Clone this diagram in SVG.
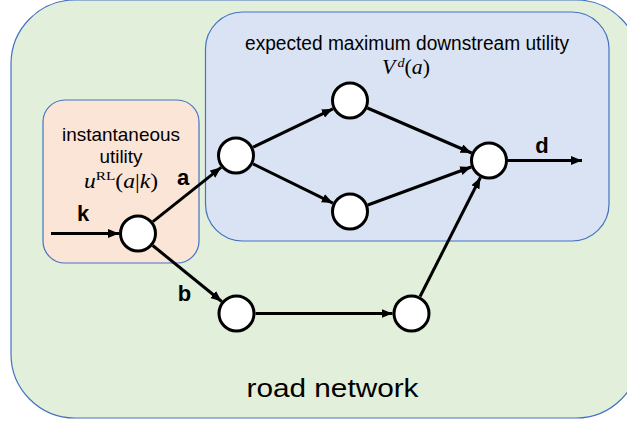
<svg xmlns="http://www.w3.org/2000/svg" width="627" height="423" viewBox="0 0 627 423">
<style>
.box{stroke:#4472C4;stroke-width:1.2}
.node circle{fill:#fff;stroke:#000;stroke-width:3}
.edge{stroke:#000;stroke-width:3;fill:none;marker-end:url(#ah)}
.lbl{font-family:"Liberation Sans",Arial,sans-serif;fill:#000;text-anchor:middle}
.b{font-weight:bold;font-size:22px}
.m{font-family:"Liberation Serif","Times New Roman",serif;fill:#000;text-anchor:middle}
</style>
<defs>
<marker id="ah" markerUnits="userSpaceOnUse" markerWidth="12" markerHeight="10" refX="11" refY="4.5" orient="auto">
<path d="M0,0 L11,4.5 L0,9 z" fill="#000"/>
</marker>
</defs>
<g id="road-network">
<rect class="box" x="11" y="0" width="629" height="418" rx="64" ry="64" fill="#E2EFDA"/>
<text class="lbl" x="332.5" y="397" font-size="26" textLength="172" lengthAdjust="spacingAndGlyphs">road network</text>
</g>
<g id="downstream">
<rect class="box" x="205.5" y="12" width="403.5" height="229" rx="37" ry="37" fill="#DAE3F3"/>
<text class="lbl" x="407" y="50" font-size="20" textLength="324" lengthAdjust="spacingAndGlyphs">expected maximum downstream utility</text>
<text class="m" x="406" y="74" font-size="20" textLength="48" lengthAdjust="spacingAndGlyphs"><tspan font-style="italic">V</tspan><tspan font-style="italic" font-size="13" dx="2" dy="-7">d</tspan><tspan dy="7">(</tspan><tspan font-style="italic">a</tspan>)</text>
</g>
<g id="instantaneous">
<rect class="box" x="43" y="100" width="156" height="163" rx="22" ry="22" fill="#FBE5D6"/>
<text class="lbl" x="121" y="140.5" font-size="19" textLength="118" lengthAdjust="spacingAndGlyphs">instantaneous</text>
<text class="lbl" x="121" y="163" font-size="19" textLength="43" lengthAdjust="spacingAndGlyphs">utility</text>
<text class="m" x="121" y="188" font-size="20" textLength="74" lengthAdjust="spacingAndGlyphs"><tspan font-style="italic">u</tspan><tspan font-size="13" dy="-8">RL</tspan><tspan dy="8">(</tspan><tspan font-style="italic">a</tspan>|<tspan font-style="italic">k</tspan>)</text>
</g>
<g id="connectors">
<line class="edge" x1="51" y1="233.5" x2="119" y2="233.5"/>
<line class="edge" x1="152.9" y1="221.7" x2="221.1" y2="167.3"/>
<line class="edge" x1="152.7" y1="245.5" x2="221.7" y2="301.5"/>
<line class="edge" x1="253.1" y1="147.2" x2="332.9" y2="108.8"/>
<line class="edge" x1="253.1" y1="163.9" x2="332.9" y2="203.1"/>
<line class="edge" x1="367.4" y1="108" x2="471.6" y2="153"/>
<line class="edge" x1="367.8" y1="205" x2="471.2" y2="167"/>
<line class="edge" x1="255.5" y1="313.5" x2="392.5" y2="313.5"/>
<line class="edge" x1="420.1" y1="296.5" x2="480.4" y2="177.5"/>
<line class="edge" x1="508" y1="160.5" x2="582" y2="160.5"/>
</g>
<g id="labels">
<text class="lbl b" x="83" y="221">k</text>
<text class="lbl b" x="183" y="185">a</text>
<text class="lbl b" x="184.5" y="301">b</text>
<text class="lbl b" x="542" y="153">d</text>
</g>
<g id="node-k" class="node"><circle cx="138" cy="233.5" r="17.5"/></g>
<g id="node-a" class="node"><circle cx="236" cy="155.5" r="17.5"/></g>
<g id="node-top" class="node"><circle cx="350" cy="100.5" r="17.5"/></g>
<g id="node-mid" class="node"><circle cx="350" cy="211.5" r="17.5"/></g>
<g id="node-d" class="node"><circle cx="489" cy="160.5" r="17.5"/></g>
<g id="node-b" class="node"><circle cx="236.5" cy="313.5" r="17.5"/></g>
<g id="node-r" class="node"><circle cx="411.5" cy="313.5" r="17.5"/></g>
</svg>
